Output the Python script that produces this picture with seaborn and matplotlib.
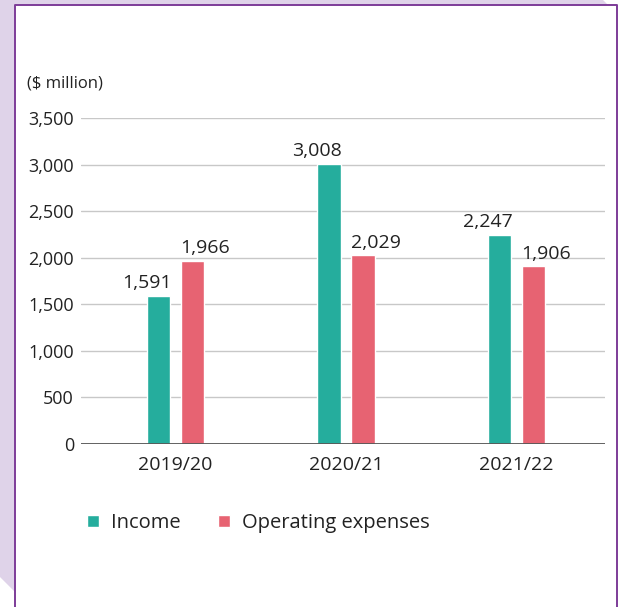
import matplotlib
matplotlib.use("Agg")
import matplotlib.pyplot as plt
from matplotlib.patches import Polygon
from matplotlib.lines import Line2D
import seaborn as sns
import pandas as pd

years = ["2019/20", "2020/21", "2021/22"]
income = [1591, 3008, 2247]
expenses = [1966, 2029, 1906]
series_names = ["Income", "Operating expenses"]
y_ticks = [0, 500, 1000, 1500, 2000, 2500, 3000, 3500]

colors = ["#25ad9d", "#e76372"]

df = pd.DataFrame({
    "year": years * 2,
    "value": income + expenses,
    "series": [series_names[0]] * len(years) + [series_names[1]] * len(years),
})

sns.set_theme(style="white")
plt.rcParams["font.family"] = ["Open Sans", "DejaVu Sans"]

W, H = 619, 607
fig = plt.figure(figsize=(W / 100, H / 100), dpi=100)
fig.patch.set_facecolor("white")

def px(x, y):
    return (x / W, 1 - y / H)

lav = "#dfd3e9"
purple = "#7d3c98"
fig.add_artist(Polygon([px(0, 0), px(603, 0), px(608, 5), px(15, 5), px(15, 592), px(0, 577)],
                       closed=True, transform=fig.transFigure, facecolor=lav, edgecolor="none", zorder=0))
fig.add_artist(Line2D([px(15, 607)[0], px(15, 5)[0], px(617, 5)[0], px(617, 607)[0]],
                      [px(15, 607)[1], px(15, 5)[1], px(617, 5)[1], px(617, 607)[1]],
                      transform=fig.transFigure, color=purple, lw=1.4, zorder=1))

left, right, top, bottom = 81, 605, 118, 444
ax = fig.add_axes([left / W, 1 - bottom / H, (right - left) / W, (bottom - top) / H])
ax.set_facecolor("none")

sns.barplot(data=df, x="year", y="value", hue="series", palette=colors,
            width=0.4, gap=0.32, ax=ax, legend=True, saturation=1)

ax.set_ylim(0, 3500)
ax.set_xlim(-0.554, 2.519)
ax.set_yticks(y_ticks)
ax.set_yticklabels([f"{v:,}" for v in y_ticks])
ax.set_xlabel("")
ax.set_ylabel("")
for v in y_ticks[1:]:
    ax.axhline(v, color="#c8c8c8", lw=1.0, zorder=0)
ax.axhline(0, color="#555555", lw=1.3, zorder=3)
for s in ax.spines.values():
    s.set_visible(False)
ax.tick_params(axis="y", length=0, pad=5, labelsize=13, labelcolor="#222222")
ax.tick_params(axis="x", length=0, pad=9, labelsize=14, labelcolor="#222222")

for ci, cont in enumerate(ax.containers):
    for bar in cont:
        h = bar.get_height()
        if ci == 0:
            xx = bar.get_x() + bar.get_width() + 0.01
            ha = "right"
        else:
            xx = bar.get_x() - 0.005
            ha = "left"
        ax.annotate(f"{int(round(h)):,}", (xx, h), xytext=(0, 2.5), textcoords="offset points",
                    ha=ha, va="bottom", fontsize=14, color="#222222", clip_on=False)

handles, labels = ax.get_legend_handles_labels()
ax.get_legend().remove()
fig.legend(handles, labels, loc="center left", bbox_to_anchor=(69 / W, 1 - 523 / H),
           ncol=2, frameon=False, fontsize=14.5, handlelength=0.6, handleheight=0.6,
           handletextpad=0.6, columnspacing=1.85, labelcolor="#222222")

fig.text(27 / W, 1 - 84 / H, "($ million)", fontsize=12, color="#222222", va="center", ha="left")

fig.savefig("out.png", dpi=100)
